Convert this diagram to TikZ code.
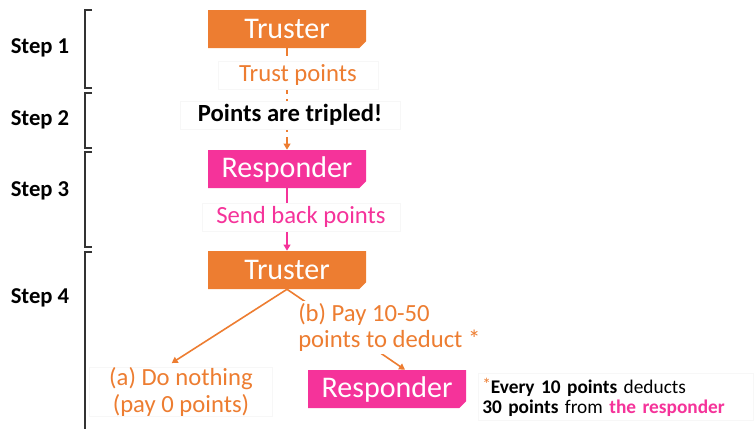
\documentclass[tikz,border=0pt]{standalone}
\usepackage{fontspec}
\setmainfont{Carlito}
\usetikzlibrary{shapes.misc,arrows.meta,backgrounds}
\definecolor{trorange}{HTML}{ED7D31}
\definecolor{rspink}{HTML}{F5339A}
\tikzset{
  role/.style={shape=chamfered rectangle, chamfered rectangle corners=south east,
    chamfered rectangle xsep=2.5pt, chamfered rectangle ysep=2.5pt,
    minimum width=118.5pt, minimum height=28.5pt, inner sep=0pt,
    text=white, font=\fontsize{22.5}{24}\selectfont},
  truster/.style={role, fill=trorange},
  responder/.style={role, fill=rspink},
  lbl/.style={fill=white, draw=black!3, line width=0.4pt, inner sep=0pt,
    font=\fontsize{18.5}{20}\selectfont},
  steplbl/.style={font=\fontsize{17}{19}\selectfont\bfseries, inner sep=0pt},
  bracket/.style={draw=black!80, line width=0.9pt},
  tip/.style={-{Triangle[width=5pt,length=4.5pt]}},
  conn/.style={line width=1.2pt, tip},
}
\begin{document}
\begin{tikzpicture}[x=0.75pt, y=-0.75pt]
\useasboundingbox (0,0) rectangle (755,429);

% step brackets
\draw[bracket] (92,10) -- (85,10) -- (85,88) -- (92,88);
\draw[bracket] (92,93) -- (85,93) -- (85,148) -- (92,148);
\draw[bracket] (92,152) -- (85,152) -- (85,247) -- (92,247);
\draw[bracket] (92,252) -- (85,252) -- (85,429);

\node[steplbl] (s1) at (40,48) {Step 1};
\node[steplbl] (s2) at (40,120) {Step 2};
\node[steplbl] (s3) at (40,191) {Step 3};
\node[steplbl] (s4) at (40,298) {Step 4};

% role boxes
\node[truster] (t1) at (287,29) {Truster};
\node[responder] (r1) at (287,169) {Responder};
\node[truster] (t2) at (287,270) {Truster};
\node[responder] (r2) at (387,389) {Responder};

% labels on the connectors
\node[lbl, text=trorange, minimum width=120pt, minimum height=21pt] (trust) at (298,75) {Trust points};
\node[lbl, font=\fontsize{18.5}{20}\selectfont\bfseries, minimum width=165pt, minimum height=21pt] (triple) at (290,115) {Points are tripled!};
\node[lbl, text=rspink, minimum width=148.5pt, minimum height=21pt] (sendback) at (301,217) {Send back points};

\node[lbl, text=trorange, align=center, minimum width=137pt, minimum height=37pt,
      font=\fontsize{18.5}{20}\selectfont] (opta) at (181,392) {(a) Do nothing\\(pay 0 points)};
\node[fill=white, text=trorange, align=left, inner sep=1.5pt, anchor=north west,
      font=\fontsize{18.5}{20}\selectfont] (optb) at (296,301) {(b) Pay 10-50\\points to deduct *};

\node[lbl, anchor=west, align=left, inner sep=3pt, text width=200pt,
      font=\fontsize{14.5}{15}\selectfont] (note) at (478,397)
  {\textcolor{trorange}{\raisebox{0.35ex}{\fontsize{13}{13}\selectfont *}}\textbf{Every 10 points} deducts\\
   \textbf{30 points} from \textcolor{rspink}{\textbf{the responder}}};

% connectors
\begin{pgfonlayer}{background}
\draw[trorange, line width=1.2pt, dash pattern=on 6pt off 3.5pt, tip] (t1.south) -- (r1.north);
\draw[rspink, conn] (r1.south) -- (t2.north);
\draw[trorange, conn] (t2.south) -- ([xshift=-7pt, yshift=3pt]opta.north);
\draw[trorange, conn] (t2.south) -- ([xshift=13.5pt]r2.north);
\end{pgfonlayer}
\end{tikzpicture}
\end{document}
